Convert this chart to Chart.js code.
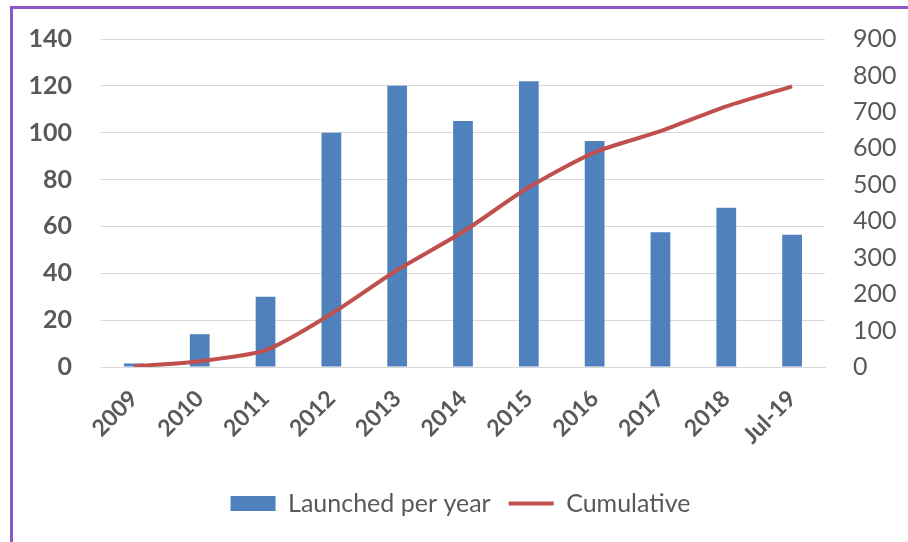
<!DOCTYPE html>
<html>
<head>
<meta charset="utf-8">
<script src="https://cdn.jsdelivr.net/npm/chart.js@4/dist/chart.umd.min.js"></script>
<style>
    html, body { margin: 0; padding: 0; background: #fff; }
    #frame {
        position: absolute; left: 10px; top: 6px;
        width: 898px; height: 536px;
        border-top: 3px solid #8d57c6;
        border-left: 3px solid #8d57c6;
    }
    #wrap { position: absolute; left: 0; top: 0; width: 895px; height: 533px; }
</style>
</head>
<body>
<div id="frame"><div id="wrap"><canvas id="launchChart"></canvas></div></div>
<script>
// values
const categories = ['2009', '2010', '2011', '2012', '2013', '2014', '2015', '2016', '2017', '2018', 'Jul-19'];
const launchedPerYear = [1.5, 14, 30, 100, 120, 105, 122, 96.5, 57.5, 68, 56.5];
const cumulative = [2, 16, 46, 146, 266, 371, 493, 589, 647, 715, 770];
const leftTicks = [0, 20, 40, 60, 80, 100, 120, 140];
const rightTicks = [0, 100, 200, 300, 400, 500, 600, 700, 800, 900];

const FONT = 'Lato';
const GREY = '#595959';

// keep the y axes from reserving tick padding above/below the plot
function fixYAxis(width) {
    return s => {
        s.width = width;
        s.paddingTop = 14;
        s.paddingBottom = 14;
    };
}

const ctx = document.getElementById('launchChart').getContext('2d');
const chart = new Chart(ctx, {
    type: 'bar',
    data: {
        labels: categories,
        datasets: [
            {
                type: 'bar',
                label: 'Launched per year',
                data: launchedPerYear,
                backgroundColor: '#4f81bd',
                borderWidth: 0,
                barPercentage: 0.6,
                categoryPercentage: 0.5,
                yAxisID: 'y',
                order: 1,
                pointStyle: 'rect'
            },
            {
                type: 'line',
                label: 'Cumulative',
                data: cumulative,
                borderColor: '#c0504d',
                backgroundColor: '#c0504d',
                borderWidth: 4,
                pointRadius: 0,
                tension: 0.25,
                yAxisID: 'y1',
                order: 0,
                pointStyle: 'line'
            }
        ]
    },
    options: {
        responsive: true,
        maintainAspectRatio: false,
        animation: false,
        layout: { padding: { top: 30, bottom: 16 } },
        plugins: {
            tooltip: { enabled: false },
            legend: {
                position: 'bottom',
                labels: {
                    usePointStyle: true,
                    pointStyleWidth: 45,
                    boxHeight: 15,
                    padding: 18,
                    color: GREY,
                    font: { family: FONT, size: 25 },
                    sort: (a, b) => a.datasetIndex - b.datasetIndex
                }
            }
        },
        scales: {
            x: {
                grid: { display: false, drawTicks: false },
                border: { display: true, color: '#d9d9d9', width: 1 },
                ticks: {
                    color: GREY,
                    font: { family: FONT, size: 23, weight: 'bold' },
                    maxRotation: 45,
                    minRotation: 45,
                    padding: 18
                },
                afterFit: s => { s.height = 106; }
            },
            y: {
                position: 'left',
                min: 0, max: 140,
                afterBuildTicks: s => { s.ticks = leftTicks.map(v => ({ value: v })); },
                grid: { color: '#d9d9d9', lineWidth: 1, drawTicks: false },
                border: { display: false },
                ticks: {
                    color: GREY,
                    font: { family: FONT, size: 25, weight: 'bold' },
                    padding: 29
                },
                afterFit: fixYAxis(88)
            },
            y1: {
                position: 'right',
                min: 0, max: 900,
                afterBuildTicks: s => { s.ticks = rightTicks.map(v => ({ value: v })); },
                grid: { display: false, drawTicks: false },
                border: { display: false },
                ticks: {
                    color: GREY,
                    font: { family: FONT, size: 25 },
                    padding: 28
                },
                afterFit: fixYAxis(83)
            }
        }
    }
});
</script>
</body>
</html>
